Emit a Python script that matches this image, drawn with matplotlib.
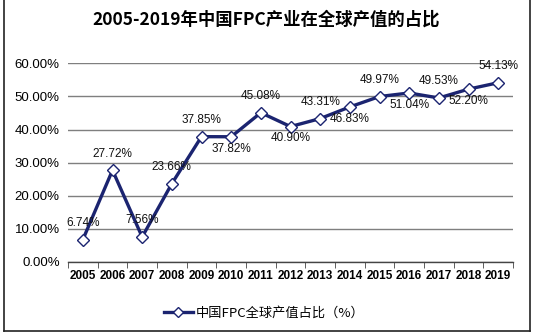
import matplotlib
matplotlib.use("Agg")
import matplotlib.pyplot as plt
from matplotlib.lines import Line2D

years = ["2005", "2006", "2007", "2008", "2009", "2010", "2011", "2012",
         "2013", "2014", "2015", "2016", "2017", "2018", "2019"]
values = [6.74, 27.72, 7.56, 23.66, 37.85, 37.82, 45.08, 40.90,
          43.31, 46.83, 49.97, 51.04, 49.53, 52.20, 54.13]
label_pos = ["above", "above", "above", "above", "above", "below", "above", "below",
             "above", "below", "above", "below", "above", "below", "above"]
yticks = [0, 10, 20, 30, 40, 50, 60]
title = "2005-2019年中国FPC产业在全球产值的占比"
legend_label = "中国FPC全球产值占比（%）"

plt.rcParams['font.family'] = ['Liberation Sans', 'Noto Sans CJK SC', 'DejaVu Sans']

W, H = 533, 334
fig = plt.figure(figsize=(W / 100, H / 100), dpi=100)
fig.patch.set_facecolor("white")

def fx(px):
    return px / W

def fy(py):
    return 1 - py / H

ax = fig.add_axes([fx(68), fy(262), fx(513) - fx(68), fy(63.3) - fy(262)])
color = "#1b2470"
x = list(range(len(years)))
ax.plot(x, values, color=color, lw=2.4, marker="D", markersize=6.5,
        markerfacecolor="white", markeredgecolor=color, markeredgewidth=1.0, zorder=3)

ax.set_xlim(-0.5, len(years) - 0.5)
ax.set_ylim(0, 60)
ax.set_yticks(yticks)
ax.set_yticklabels([f"{v:.2f}%" for v in yticks], fontsize=9.5)
ax.set_xticks(x)
ax.set_xticklabels(years, fontsize=8.5, fontweight="bold")
ax.set_xticks([i - 0.5 for i in range(len(years) + 1)], minor=True)
ax.tick_params(axis="x", which="major", length=0, pad=6)
ax.tick_params(axis="x", which="minor", length=4, color="#444444")
ax.tick_params(axis="y", length=0, pad=6)
ax.grid(axis="y", color="#7f7f7f", lw=1.0)
ax.set_axisbelow(True)
for s in ["top", "right", "left"]:
    ax.spines[s].set_visible(False)
ax.spines["bottom"].set_color("#444444")
ax.spines["bottom"].set_linewidth(1.0)

for xi, v, pos in zip(x, values, label_pos):
    dy = 12 if pos == "above" else -8.5
    ax.annotate(f"{v:.2f}%", (xi, v), xytext=(0, dy), textcoords="offset points",
                ha="center", va="center", fontsize=8.5, color="#111111", zorder=4)

fig.text(0.5, fy(20), title, ha="center", va="center", fontsize=12.5,
         fontweight="bold", family=['Noto Sans CJK SC', 'DejaVu Sans'])

handle = Line2D([0], [0], color=color, lw=2.4, marker="D", markersize=5.5,
                markerfacecolor="white", markeredgecolor=color, markeredgewidth=1.0)
fig.legend([handle], [legend_label], loc="center", bbox_to_anchor=(fx(264), fy(313)),
           frameon=False, fontsize=9, handlelength=2.2, handletextpad=0.2,
           prop={'family': ['Noto Sans CJK SC', 'DejaVu Sans'], 'size': 9.5})

# figure border
border_kw = dict(color="#222222", lw=1.2, transform=fig.transFigure)
fig.add_artist(Line2D([fx(3.5), fx(3.5)], [fy(0), fy(331)], **border_kw))
fig.add_artist(Line2D([fx(530), fx(530)], [fy(0), fy(331)], **border_kw))
fig.add_artist(Line2D([fx(3.5), fx(530)], [fy(331), fy(331)], **border_kw))

fig.savefig("out.png", dpi=100, facecolor="white")
